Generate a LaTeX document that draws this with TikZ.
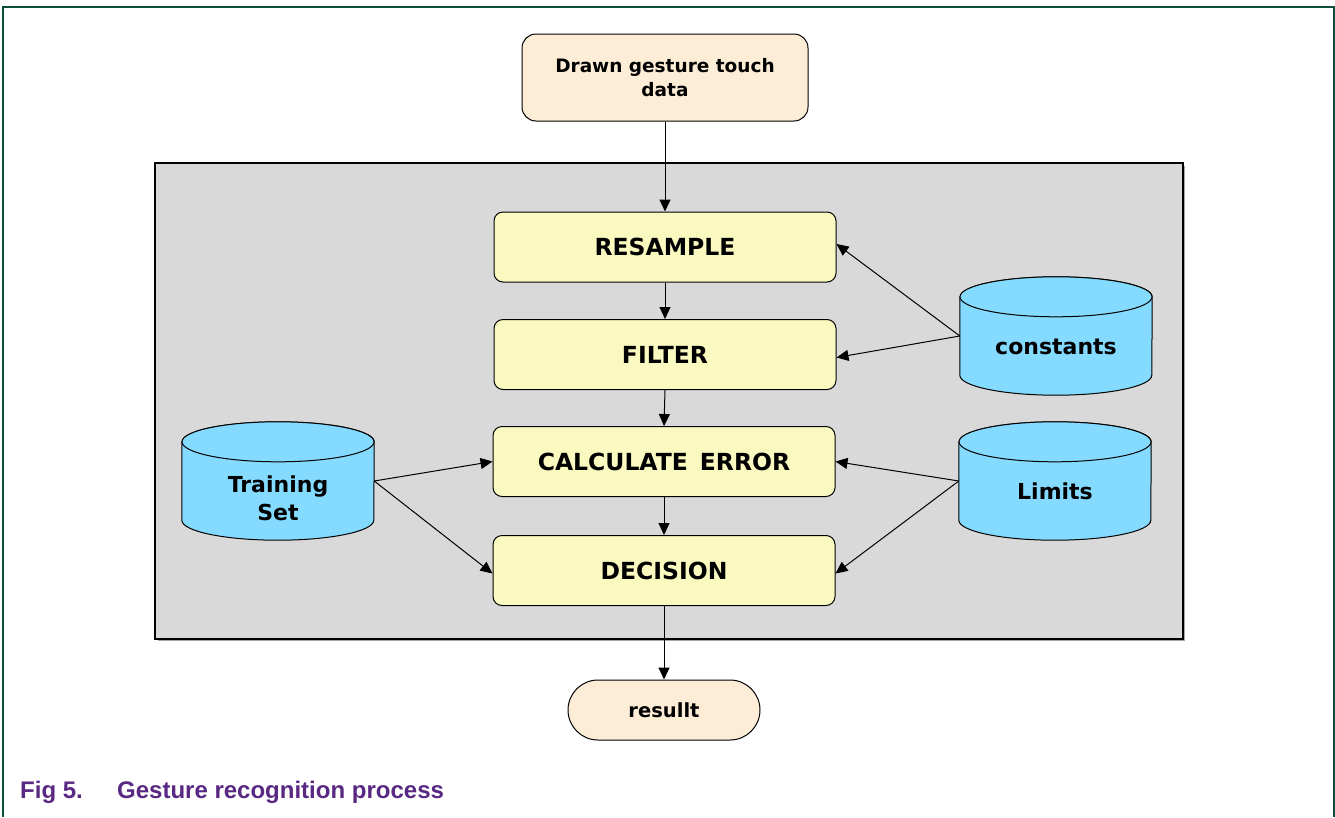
\documentclass[tikz,border=0pt]{standalone}
\usepackage{fontspec}
\setmainfont{Liberation Sans}
\newfontfamily\boxfont{DejaVu Sans}
\usetikzlibrary{arrows.meta}
\definecolor{frameC}{RGB}{15,77,63}
\definecolor{peach}{RGB}{253,236,214}
\definecolor{procY}{RGB}{250,249,192}
\definecolor{cylC}{RGB}{132,218,255}
\definecolor{grayBg}{RGB}{217,217,217}
\definecolor{capC}{RGB}{88,40,130}
\tikzset{
  proc/.style={draw=black, line width=1pt, fill=procY, rounded corners=9pt, minimum width=342pt, minimum height=70pt, font=\boxfont\bfseries\fontsize{23.5}{26}\selectfont, inner sep=0pt},
  term/.style={draw=black, line width=1pt, fill=peach, inner sep=0pt, align=center, font=\boxfont\bfseries\fontsize{18.5}{24}\selectfont},
  cylbox/.style={minimum width=192pt, minimum height=118pt, inner sep=0pt, align=center, font=\boxfont\bfseries\fontsize{22}{28}\selectfont},
  cylfill/.style={draw=black, line width=1pt, fill=cylC},
  arr/.style={-{Triangle[length=12pt,width=11pt]}, line width=1pt, black},
}
\newcommand{\cyldraw}[1]{%
  \path[cylfill] ([yshift=-20pt]#1.north west) -- ([yshift=20pt]#1.south west)
    arc[start angle=180,end angle=360,x radius=96pt,y radius=20pt]
    -- ([yshift=-20pt]#1.north east)
    arc[start angle=0,end angle=180,x radius=96pt,y radius=20pt] -- cycle;
  \path[cylfill] ([yshift=-20pt]#1.north) ellipse[x radius=96pt,y radius=20pt];
}
\begin{document}
\begin{tikzpicture}[x=1pt,y=-1pt]
\useasboundingbox (0,0) rectangle (1335,817);
% frame
\draw[frameC, line width=1.6pt] (3,817) -- (3,7) -- (1334,7) -- (1334,817);
% gray background
\fill[black!35] (158,166) rectangle (1185,641);
\draw[black, line width=1.4pt, fill=grayBg] (155,163) rectangle (1183,639);
% nodes
\node[term, rounded corners=14pt, minimum width=286pt, minimum height=87pt] (src) at (665,77.5) {Drawn gesture touch\\data};
\node[proc] (res) at (665,247) {RESAMPLE};
\node[proc] (fil) at (665,354.5) {FILTER};
\node[proc] (cal) at (664,461.5) {CALCULATE\hspace{12pt}ERROR};
\node[proc] (dec) at (664,570.5) {DECISION};
\node[term, rounded corners=30pt, minimum width=192pt, minimum height=60pt, font=\boxfont\bfseries\fontsize{19.5}{24}\selectfont] (out) at (664,710) {resullt};
% cylinders
\node[cylbox] (con) at (1056,336) {};
\node[cylbox] (lim) at (1055,481) {};
\node[cylbox] (tra) at (278,481) {};
\cyldraw{con}
\cyldraw{lim}
\cyldraw{tra}
\node[cylbox] at (1056,347) {constants};
\node[cylbox] at (1055,491) {Limits};
\node[cylbox] at (278,498) {Training\\Set};
% connectors
\draw[arr] (src.south) -- (res.north);
\draw[arr] (res.south) -- (fil.north);
\draw[arr] (fil.south) -- (cal.north);
\draw[arr] (cal.south) -- (dec.north);
\draw[arr] (dec.south) -- (out.north);
\draw[arr] (con.west) -- ([yshift=3pt]res.east);
\draw[arr] (con.west) -- ([yshift=-3pt]fil.east);
\draw[arr] (lim.west) -- (cal.east);
\draw[arr] (lim.west) -- ([yshift=-3pt]dec.east);
\draw[arr] (tra.east) -- (cal.west);
\draw[arr] (tra.east) -- ([yshift=-3pt]dec.west);
% caption
\node[anchor=base west, text=capC, font=\bfseries\fontsize{24}{28}\selectfont, inner sep=0pt] (cap1) at (20,798) {Fig 5.};
\node[anchor=base west, text=capC, font=\bfseries\fontsize{24}{28}\selectfont, inner sep=0pt] (cap2) at (117,798) {Gesture recognition process};
\end{tikzpicture}
\end{document}
